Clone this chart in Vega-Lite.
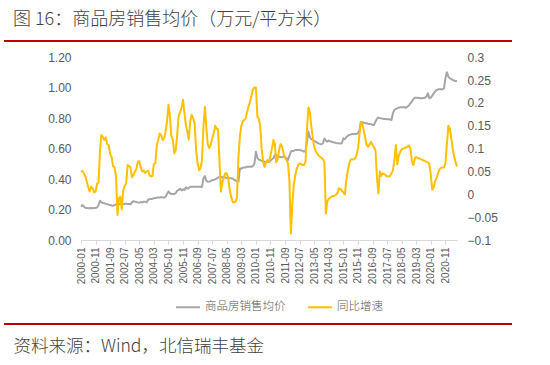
{
  "$schema": "https://vega.github.io/schema/vega-lite/v6.json",
  "autosize": "none",
  "width": 508,
  "height": 283,
  "padding": {"left": 4, "top": 41, "right": 38, "bottom": 41},
  "background": "white",
  "view": {"stroke": "#c00000", "strokeWidth": 2, "strokeDash": [508, 283]},
  "config": {"axis": {"labelOverlap": false}},
  "title": {
    "text": "图 16：商品房销售均价（万元/平方米）",
    "anchor": "start", "frame": "group", "offset": 12, "dx": 9,
    "font": "Noto Sans CJK SC", "fontSize": 18, "fontWeight": 300, "color": "#404040"
  },
  "data": {"values": [
    {"date":"2000-01-01","price":0.219,"yoy":0.050},{"date":"2000-02-01","price":0.230,"yoy":0.051},{"date":"2000-03-01","price":0.219,"yoy":0.046},{"date":"2000-04-01","price":0.212,"yoy":0.039},{"date":"2000-05-01","price":0.210,"yoy":0.028},{"date":"2000-06-01","price":0.208,"yoy":0.015},{"date":"2000-07-01","price":0.208,"yoy":0.006},{"date":"2000-08-01","price":0.210,"yoy":0.017},{"date":"2000-09-01","price":0.208,"yoy":0.013},{"date":"2000-10-01","price":0.210,"yoy":0.004},{"date":"2000-11-01","price":0.210,"yoy":0.006},{"date":"2000-12-01","price":0.214,"yoy":0.023},
    {"date":"2001-01-01","price":0.230,"yoy":0.026},{"date":"2001-02-01","price":0.258,"yoy":0.097},{"date":"2001-03-01","price":0.247,"yoy":0.130},{"date":"2001-04-01","price":0.243,"yoy":0.125},{"date":"2001-05-01","price":0.241,"yoy":0.119},{"date":"2001-06-01","price":0.238,"yoy":0.125},{"date":"2001-07-01","price":0.236,"yoy":0.110},{"date":"2001-08-01","price":0.232,"yoy":0.108},{"date":"2001-09-01","price":0.230,"yoy":0.088},{"date":"2001-10-01","price":0.227,"yoy":0.082},{"date":"2001-11-01","price":0.225,"yoy":0.061},{"date":"2001-12-01","price":0.230,"yoy":0.059},
    {"date":"2002-01-01","price":0.234,"yoy":0.039},{"date":"2002-02-01","price":0.236,"yoy":-0.045},{"date":"2002-03-01","price":0.234,"yoy":-0.009},{"date":"2002-04-01","price":0.236,"yoy":-0.005},{"date":"2002-05-01","price":0.236,"yoy":-0.033},{"date":"2002-06-01","price":0.234,"yoy":0.009},{"date":"2002-07-01","price":0.238,"yoy":0.018},{"date":"2002-08-01","price":0.238,"yoy":0.024},{"date":"2002-09-01","price":0.236,"yoy":0.064},{"date":"2002-10-01","price":0.236,"yoy":0.062},{"date":"2002-11-01","price":0.234,"yoy":0.059},{"date":"2002-12-01","price":0.247,"yoy":0.037},
    {"date":"2003-01-01","price":0.254,"yoy":0.042},{"date":"2003-02-01","price":0.252,"yoy":0.050},{"date":"2003-03-01","price":0.250,"yoy":0.055},{"date":"2003-04-01","price":0.247,"yoy":0.071},{"date":"2003-05-01","price":0.245,"yoy":0.073},{"date":"2003-06-01","price":0.249,"yoy":0.059},{"date":"2003-07-01","price":0.247,"yoy":0.050},{"date":"2003-08-01","price":0.252,"yoy":0.052},{"date":"2003-09-01","price":0.252,"yoy":0.047},{"date":"2003-10-01","price":0.247,"yoy":0.050},{"date":"2003-11-01","price":0.263,"yoy":0.052},{"date":"2003-12-01","price":0.269,"yoy":0.042},
    {"date":"2004-01-01","price":0.269,"yoy":0.039},{"date":"2004-02-01","price":0.271,"yoy":0.040},{"date":"2004-03-01","price":0.274,"yoy":0.066},{"date":"2004-04-01","price":0.276,"yoy":0.068},{"date":"2004-05-01","price":0.278,"yoy":0.108},{"date":"2004-06-01","price":0.280,"yoy":0.119},{"date":"2004-07-01","price":0.278,"yoy":0.133},{"date":"2004-08-01","price":0.282,"yoy":0.130},{"date":"2004-09-01","price":0.280,"yoy":0.119},{"date":"2004-10-01","price":0.278,"yoy":0.122},{"date":"2004-11-01","price":0.284,"yoy":0.137},{"date":"2004-12-01","price":0.302,"yoy":0.159},
    {"date":"2005-01-01","price":0.319,"yoy":0.196},{"date":"2005-02-01","price":0.306,"yoy":0.170},{"date":"2005-03-01","price":0.302,"yoy":0.128},{"date":"2005-04-01","price":0.302,"yoy":0.120},{"date":"2005-05-01","price":0.302,"yoy":0.090},{"date":"2005-06-01","price":0.308,"yoy":0.097},{"date":"2005-07-01","price":0.324,"yoy":0.130},{"date":"2005-08-01","price":0.328,"yoy":0.172},{"date":"2005-09-01","price":0.337,"yoy":0.180},{"date":"2005-10-01","price":0.326,"yoy":0.190},{"date":"2005-11-01","price":0.333,"yoy":0.207},{"date":"2005-12-01","price":0.328,"yoy":0.177},
    {"date":"2006-01-01","price":0.346,"yoy":0.150},{"date":"2006-02-01","price":0.337,"yoy":0.137},{"date":"2006-03-01","price":0.341,"yoy":0.120},{"date":"2006-04-01","price":0.350,"yoy":0.161},{"date":"2006-05-01","price":0.350,"yoy":0.174},{"date":"2006-06-01","price":0.350,"yoy":0.166},{"date":"2006-07-01","price":0.350,"yoy":0.155},{"date":"2006-08-01","price":0.350,"yoy":0.097},{"date":"2006-09-01","price":0.350,"yoy":0.068},{"date":"2006-10-01","price":0.350,"yoy":0.053},{"date":"2006-11-01","price":0.350,"yoy":0.057},{"date":"2006-12-01","price":0.348,"yoy":0.075},
    {"date":"2007-01-01","price":0.405,"yoy":0.148},{"date":"2007-02-01","price":0.420,"yoy":0.192},{"date":"2007-03-01","price":0.390,"yoy":0.148},{"date":"2007-04-01","price":0.383,"yoy":0.110},{"date":"2007-05-01","price":0.383,"yoy":0.101},{"date":"2007-06-01","price":0.387,"yoy":0.108},{"date":"2007-07-01","price":0.394,"yoy":0.122},{"date":"2007-08-01","price":0.394,"yoy":0.132},{"date":"2007-09-01","price":0.398,"yoy":0.150},{"date":"2007-10-01","price":0.403,"yoy":0.144},{"date":"2007-11-01","price":0.409,"yoy":0.142},{"date":"2007-12-01","price":0.414,"yoy":0.075},
    {"date":"2008-01-01","price":0.414,"yoy":0.006},{"date":"2008-02-01","price":0.411,"yoy":0.028},{"date":"2008-03-01","price":0.416,"yoy":0.036},{"date":"2008-04-01","price":0.411,"yoy":0.046},{"date":"2008-05-01","price":0.405,"yoy":0.046},{"date":"2008-06-01","price":0.405,"yoy":0.035},{"date":"2008-07-01","price":0.405,"yoy":0.011},{"date":"2008-08-01","price":0.405,"yoy":-0.005},{"date":"2008-09-01","price":0.403,"yoy":-0.016},{"date":"2008-10-01","price":0.396,"yoy":-0.018},{"date":"2008-11-01","price":0.390,"yoy":-0.016},{"date":"2008-12-01","price":0.385,"yoy":-0.007},
    {"date":"2009-01-01","price":0.384,"yoy":0.082},{"date":"2009-02-01","price":0.470,"yoy":0.128},{"date":"2009-03-01","price":0.468,"yoy":0.150},{"date":"2009-04-01","price":0.475,"yoy":0.159},{"date":"2009-05-01","price":0.477,"yoy":0.163},{"date":"2009-06-01","price":0.477,"yoy":0.166},{"date":"2009-07-01","price":0.481,"yoy":0.181},{"date":"2009-08-01","price":0.481,"yoy":0.193},{"date":"2009-09-01","price":0.481,"yoy":0.203},{"date":"2009-10-01","price":0.481,"yoy":0.217},{"date":"2009-11-01","price":0.486,"yoy":0.230},{"date":"2009-12-01","price":0.503,"yoy":0.234},
    {"date":"2010-01-01","price":0.580,"yoy":0.234},{"date":"2010-02-01","price":0.540,"yoy":0.170},{"date":"2010-03-01","price":0.528,"yoy":0.166},{"date":"2010-04-01","price":0.525,"yoy":0.150},{"date":"2010-05-01","price":0.520,"yoy":0.100},{"date":"2010-06-01","price":0.518,"yoy":0.070},{"date":"2010-07-01","price":0.513,"yoy":0.060},{"date":"2010-08-01","price":0.514,"yoy":0.070},{"date":"2010-09-01","price":0.512,"yoy":0.075},{"date":"2010-10-01","price":0.511,"yoy":0.072},{"date":"2010-11-01","price":0.522,"yoy":0.085},{"date":"2010-12-01","price":0.530,"yoy":0.100},
    {"date":"2011-01-01","price":0.537,"yoy":0.119},{"date":"2011-02-01","price":0.558,"yoy":0.110},{"date":"2011-03-01","price":0.558,"yoy":0.070},{"date":"2011-04-01","price":0.552,"yoy":0.078},{"date":"2011-05-01","price":0.548,"yoy":0.098},{"date":"2011-06-01","price":0.543,"yoy":0.110},{"date":"2011-07-01","price":0.543,"yoy":0.105},{"date":"2011-08-01","price":0.548,"yoy":0.090},{"date":"2011-09-01","price":0.546,"yoy":0.080},{"date":"2011-10-01","price":0.537,"yoy":0.075},{"date":"2011-11-01","price":0.526,"yoy":0.068},{"date":"2011-12-01","price":0.552,"yoy":0.030},
    {"date":"2012-01-01","price":0.580,"yoy":-0.086},{"date":"2012-02-01","price":0.585,"yoy":-0.020},{"date":"2012-03-01","price":0.585,"yoy":0.020},{"date":"2012-04-01","price":0.591,"yoy":0.042},{"date":"2012-05-01","price":0.591,"yoy":0.055},{"date":"2012-06-01","price":0.591,"yoy":0.064},{"date":"2012-07-01","price":0.591,"yoy":0.068},{"date":"2012-08-01","price":0.589,"yoy":0.066},{"date":"2012-09-01","price":0.585,"yoy":0.064},{"date":"2012-10-01","price":0.580,"yoy":0.064},{"date":"2012-11-01","price":0.587,"yoy":0.071},{"date":"2012-12-01","price":0.640,"yoy":0.141},
    {"date":"2013-01-01","price":0.712,"yoy":0.190},{"date":"2013-02-01","price":0.675,"yoy":0.180},{"date":"2013-03-01","price":0.662,"yoy":0.150},{"date":"2013-04-01","price":0.657,"yoy":0.125},{"date":"2013-05-01","price":0.651,"yoy":0.105},{"date":"2013-06-01","price":0.646,"yoy":0.095},{"date":"2013-07-01","price":0.640,"yoy":0.090},{"date":"2013-08-01","price":0.635,"yoy":0.085},{"date":"2013-09-01","price":0.631,"yoy":0.082},{"date":"2013-10-01","price":0.629,"yoy":0.080},{"date":"2013-11-01","price":0.635,"yoy":0.077},{"date":"2013-12-01","price":0.666,"yoy":0.070},
    {"date":"2014-01-01","price":0.653,"yoy":-0.042},{"date":"2014-02-01","price":0.646,"yoy":-0.015},{"date":"2014-03-01","price":0.653,"yoy":-0.010},{"date":"2014-04-01","price":0.648,"yoy":-0.007},{"date":"2014-05-01","price":0.646,"yoy":-0.005},{"date":"2014-06-01","price":0.642,"yoy":-0.004},{"date":"2014-07-01","price":0.640,"yoy":-0.003},{"date":"2014-08-01","price":0.637,"yoy":-0.001},{"date":"2014-09-01","price":0.635,"yoy":0.003},{"date":"2014-10-01","price":0.635,"yoy":0.013},{"date":"2014-11-01","price":0.633,"yoy":0.012},{"date":"2014-12-01","price":0.635,"yoy":0.008},
    {"date":"2015-01-01","price":0.668,"yoy":0.004},{"date":"2015-02-01","price":0.662,"yoy":0.000},{"date":"2015-03-01","price":0.675,"yoy":0.030},{"date":"2015-04-01","price":0.684,"yoy":0.050},{"date":"2015-05-01","price":0.690,"yoy":0.066},{"date":"2015-06-01","price":0.692,"yoy":0.076},{"date":"2015-07-01","price":0.697,"yoy":0.077},{"date":"2015-08-01","price":0.697,"yoy":0.076},{"date":"2015-09-01","price":0.697,"yoy":0.079},{"date":"2015-10-01","price":0.697,"yoy":0.085},{"date":"2015-11-01","price":0.701,"yoy":0.100},{"date":"2015-12-01","price":0.720,"yoy":0.128},
    {"date":"2016-01-01","price":0.775,"yoy":0.157},{"date":"2016-02-01","price":0.773,"yoy":0.155},{"date":"2016-03-01","price":0.771,"yoy":0.140},{"date":"2016-04-01","price":0.767,"yoy":0.125},{"date":"2016-05-01","price":0.767,"yoy":0.108},{"date":"2016-06-01","price":0.764,"yoy":0.104},{"date":"2016-07-01","price":0.762,"yoy":0.109},{"date":"2016-08-01","price":0.760,"yoy":0.115},{"date":"2016-09-01","price":0.756,"yoy":0.108},{"date":"2016-10-01","price":0.756,"yoy":0.103},{"date":"2016-11-01","price":0.777,"yoy":0.097},{"date":"2016-12-01","price":0.795,"yoy":0.039},
    {"date":"2017-01-01","price":0.804,"yoy":0.002},{"date":"2017-02-01","price":0.801,"yoy":0.050},{"date":"2017-03-01","price":0.799,"yoy":0.040},{"date":"2017-04-01","price":0.797,"yoy":0.046},{"date":"2017-05-01","price":0.795,"yoy":0.044},{"date":"2017-06-01","price":0.795,"yoy":0.042},{"date":"2017-07-01","price":0.793,"yoy":0.039},{"date":"2017-08-01","price":0.793,"yoy":0.039},{"date":"2017-09-01","price":0.791,"yoy":0.040},{"date":"2017-10-01","price":0.788,"yoy":0.046},{"date":"2017-11-01","price":0.832,"yoy":0.053},{"date":"2017-12-01","price":0.854,"yoy":0.075},
    {"date":"2018-01-01","price":0.861,"yoy":0.108},{"date":"2018-02-01","price":0.865,"yoy":0.066},{"date":"2018-03-01","price":0.869,"yoy":0.084},{"date":"2018-04-01","price":0.872,"yoy":0.093},{"date":"2018-05-01","price":0.872,"yoy":0.098},{"date":"2018-06-01","price":0.872,"yoy":0.100},{"date":"2018-07-01","price":0.872,"yoy":0.101},{"date":"2018-08-01","price":0.869,"yoy":0.103},{"date":"2018-09-01","price":0.876,"yoy":0.104},{"date":"2018-10-01","price":0.883,"yoy":0.107},{"date":"2018-11-01","price":0.898,"yoy":0.101},{"date":"2018-12-01","price":0.909,"yoy":0.073},
    {"date":"2019-01-01","price":0.924,"yoy":0.064},{"date":"2019-02-01","price":0.935,"yoy":0.079},{"date":"2019-03-01","price":0.935,"yoy":0.082},{"date":"2019-04-01","price":0.935,"yoy":0.079},{"date":"2019-05-01","price":0.933,"yoy":0.079},{"date":"2019-06-01","price":0.931,"yoy":0.077},{"date":"2019-07-01","price":0.931,"yoy":0.076},{"date":"2019-08-01","price":0.933,"yoy":0.074},{"date":"2019-09-01","price":0.935,"yoy":0.073},{"date":"2019-10-01","price":0.942,"yoy":0.071},{"date":"2019-11-01","price":0.964,"yoy":0.070},{"date":"2019-12-01","price":0.931,"yoy":0.066},
    {"date":"2020-01-01","price":0.935,"yoy":0.042},{"date":"2020-02-01","price":0.948,"yoy":0.010},{"date":"2020-03-01","price":0.964,"yoy":0.015},{"date":"2020-04-01","price":0.975,"yoy":0.029},{"date":"2020-05-01","price":0.985,"yoy":0.036},{"date":"2020-06-01","price":0.990,"yoy":0.046},{"date":"2020-07-01","price":0.990,"yoy":0.055},{"date":"2020-08-01","price":0.990,"yoy":0.058},{"date":"2020-09-01","price":0.988,"yoy":0.059},{"date":"2020-10-01","price":0.996,"yoy":0.059},{"date":"2020-11-01","price":1.062,"yoy":0.068},{"date":"2020-12-01","price":1.102,"yoy":0.108},
    {"date":"2021-01-01","price":1.073,"yoy":0.150},{"date":"2021-02-01","price":1.062,"yoy":0.144},{"date":"2021-03-01","price":1.058,"yoy":0.125},{"date":"2021-04-01","price":1.051,"yoy":0.101},{"date":"2021-05-01","price":1.047,"yoy":0.084},{"date":"2021-06-01","price":1.045,"yoy":0.071},{"date":"2021-07-01","price":1.043,"yoy":0.061}
  ]},
  "layer": [
    {
      "mark": {"type": "line", "strokeWidth": 2, "strokeJoin": "round"},
      "encoding": {
        "x": {
          "field": "date", "type": "temporal",
          "scale": {"type": "utc", "domain": [{"year": 2000, "month": 1, "date": 1, "utc": true}, {"year": 2021, "month": 7, "date": 1, "utc": true}], "range": [77, 453]},
          "axis": {
            "values": [
              {"year": 2000, "month": 1, "date": 1, "utc": true}, {"year": 2000, "month": 11, "date": 1, "utc": true},
              {"year": 2001, "month": 9, "date": 1, "utc": true}, {"year": 2002, "month": 7, "date": 1, "utc": true},
              {"year": 2003, "month": 5, "date": 1, "utc": true}, {"year": 2004, "month": 3, "date": 1, "utc": true},
              {"year": 2005, "month": 1, "date": 1, "utc": true}, {"year": 2005, "month": 11, "date": 1, "utc": true},
              {"year": 2006, "month": 9, "date": 1, "utc": true}, {"year": 2007, "month": 7, "date": 1, "utc": true},
              {"year": 2008, "month": 5, "date": 1, "utc": true}, {"year": 2009, "month": 3, "date": 1, "utc": true},
              {"year": 2010, "month": 1, "date": 1, "utc": true}, {"year": 2010, "month": 11, "date": 1, "utc": true},
              {"year": 2011, "month": 9, "date": 1, "utc": true}, {"year": 2012, "month": 7, "date": 1, "utc": true},
              {"year": 2013, "month": 5, "date": 1, "utc": true}, {"year": 2014, "month": 3, "date": 1, "utc": true},
              {"year": 2015, "month": 1, "date": 1, "utc": true}, {"year": 2015, "month": 11, "date": 1, "utc": true},
              {"year": 2016, "month": 9, "date": 1, "utc": true}, {"year": 2017, "month": 7, "date": 1, "utc": true},
              {"year": 2018, "month": 5, "date": 1, "utc": true}, {"year": 2019, "month": 3, "date": 1, "utc": true},
              {"year": 2020, "month": 1, "date": 1, "utc": true}, {"year": 2020, "month": 11, "date": 1, "utc": true}
            ],
            "tickCount": 40,
            "format": "%Y-%m",
            "labelAngle": 270, "labelFont": "Liberation Sans", "labelFontSize": 10, "labelColor": "#595959",
            "labelPadding": 3, "labelOverlap": false, "labelFlush": false, "labelBound": false,
            "domainColor": "#d9d9d9", "tickColor": "#d9d9d9", "tickSize": 4, "grid": false,
            "offset": -84,
            "title": "资料来源：Wind，北信瑞丰基金",
            "titleFont": "Noto Sans CJK SC", "titleFontSize": 17.5, "titleFontWeight": 300, "titleColor": "#404040",
            "titleX": 9, "titleY": 106, "titleAlign": "left", "titleAnchor": "start", "titleBaseline": "middle", "titleAngle": 0
          }
        },
        "y": {
          "field": "price", "type": "quantitative",
          "scale": {"domain": [0, 1.2], "range": [199, 16.3], "nice": false, "zero": false},
          "axis": {
            "values": [0, 0.2, 0.4, 0.6, 0.8, 1, 1.2], "format": ".2f", "offset": -77,
            "domain": false, "ticks": false, "grid": false, "labelPadding": 10,
            "labelFont": "Liberation Sans", "labelFontSize": 12, "labelColor": "#595959", "title": null
          }
        },
        "color": {
          "datum": "商品房销售均价", "type": "nominal",
          "scale": {"domain": ["商品房销售均价", "同比增速"], "range": ["#a6a6a6", "#ffc000"]},
          "legend": {
            "orient": "none", "legendX": 171, "legendY": 253, "direction": "horizontal", "title": null,
            "symbolType": "stroke", "symbolSize": 576, "symbolStrokeWidth": 2,
            "labelFont": "Noto Sans CJK SC", "labelFontSize": 11.5, "labelFontWeight": 300, "labelColor": "#595959",
            "labelOffset": 4, "columnPadding": 18, "padding": 0
          }
        }
      }
    },
    {
      "mark": {"type": "line", "strokeWidth": 2, "strokeJoin": "round"},
      "encoding": {
        "x": {"field": "date", "type": "temporal"},
        "y": {
          "field": "yoy", "type": "quantitative",
          "scale": {"domain": [-0.1, 0.3], "range": [199, 16.3], "nice": false, "zero": false},
          "axis": {
            "orient": "right", "values": [-0.1, -0.05, 0, 0.05, 0.1, 0.15, 0.2, 0.25, 0.3], "format": ".2~f",
            "offset": -55, "domain": false, "ticks": false, "grid": false, "labelPadding": 10,
            "labelFont": "Liberation Sans", "labelFontSize": 12, "labelColor": "#595959", "title": null
          }
        },
        "color": {"datum": "同比增速", "type": "nominal"}
      }
    }
  ],
  "resolve": {"scale": {"y": "independent"}}
}
